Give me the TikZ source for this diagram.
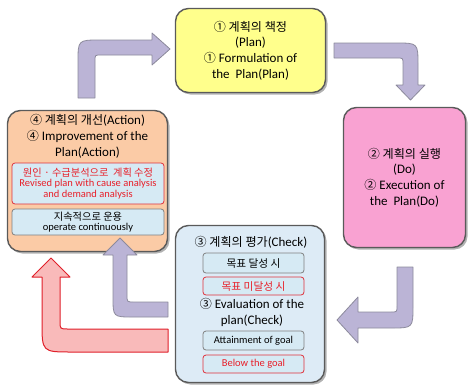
\documentclass[tikz,border=0pt]{standalone}
\usepackage{fontspec}
\setmainfont{Carlito}
\newfontfamily\kr[Scale=0.93]{Noto Sans CJK KR}
\usetikzlibrary{shadows}
\definecolor{planfill}{HTML}{FFFF8C}
\definecolor{dofill}{HTML}{F9A2D2}
\definecolor{actfill}{HTML}{FBCBA6}
\definecolor{chkfill}{HTML}{DDEBF6}
\definecolor{subfill}{HTML}{D6EAF4}
\definecolor{stageline}{HTML}{5A5A5A}
\definecolor{subline}{HTML}{808080}
\definecolor{subred}{HTML}{E0303A}
\definecolor{textred}{HTML}{E8202A}
\definecolor{arrowfill}{HTML}{BBB4D6}
\definecolor{arrowline}{HTML}{8C8A9C}
\definecolor{arrowpink}{HTML}{F9BABA}
\definecolor{arrowred}{HTML}{E0202A}
\tikzset{
  stage/.style={draw=stageline, line width=1.4pt, rounded corners=13pt, inner sep=0pt,
    drop shadow={shadow xshift=2pt, shadow yshift=-2pt, fill=black!60, opacity=.5},
    align=center, font=\fontsize{13}{15.8}\selectfont},
  subbox/.style={draw=subline, fill=subfill, rounded corners=3pt, line width=0.8pt,
    inner sep=0pt, align=center, font=\fontsize{10.5}{10.6}\selectfont},
  redbox/.style={subbox, draw=subred, text=textred},
  bentarrow/.style={draw=arrowline, fill=arrowfill, line width=0.8pt, line join=round},
  redarrow/.style={draw=arrowred, fill=arrowpink, line width=1pt, line join=round},
}
\begin{document}
\begin{tikzpicture}[x=1pt, y=-1pt]
    \useasboundingbox (0,0) rectangle (469,389);
    % stages
    \node[stage, fill=planfill, minimum width=150pt, minimum height=84pt] (plan) at (250.5,50.5)
      {{\kr ① 계획의 책정}\\(Plan)\\{\kr ①} Formulation of\\the\ \ Plan(Plan)};
    \node[stage, fill=dofill, minimum width=122pt, minimum height=140pt] (do) at (404.5,177.5)
      {{\kr ② 계획의 실행}\\(Do)\\{\kr ②} Execution of\\the\ \ Plan(Do)};
    \node[stage, fill=actfill, minimum width=160pt, minimum height=141pt] (act) at (87.5,181) {};
    \node[stage, fill=chkfill, minimum width=149pt, minimum height=157pt] (chk) at (250,304) {};
    % action contents
    \node[align=center, font=\fontsize{13}{16}\selectfont] (acttitle) at (87.5,136)
      {{\kr ④ 계획의 개선}(Action)\\{\kr ④} Improvement of the\\Plan(Action)};
    \node[redbox, minimum width=152pt, minimum height=41pt] (actfix) at (88,183.5)
      {{\kr\fontsize{11}{11}\selectfont 원인 · 수급분석으로\ \ 계획 수정}\\Revised plan with cause analysis\\and demand analysis};
    \node[subbox, minimum width=152pt, minimum height=26pt] (actrun) at (88,222)
      {{\kr\fontsize{11}{11}\selectfont 지속적으로 운용}\\operate continuously};
    % check contents
    \node[font=\fontsize{13}{15.5}\selectfont] (chktitle) at (251,242) {{\kr ③ 계획의 평가}(Check)};
    \node[subbox, minimum width=101pt, minimum height=20pt, font=\kr\fontsize{11.5}{12}\selectfont] (chkgoal) at (253.5,263) {목표 달성 시};
    \node[redbox, minimum width=101pt, minimum height=18pt, font=\kr\fontsize{11.5}{12}\selectfont] (chkmiss) at (253.5,286) {목표 미달성 시};
    \node[align=center, font=\fontsize{13}{15.5}\selectfont] (chkeval) at (252,312.5)
      {{\kr ③} Evaluation of the\\plan(Check)};
    \node[subbox, minimum width=101pt, minimum height=19pt, font=\fontsize{10.5}{12}\selectfont] (chkgoalen) at (253.5,340.5) {Attainment of goal};
    \node[redbox, minimum width=101pt, minimum height=18pt, font=\fontsize{10.5}{12}\selectfont] (chkmissen) at (253.5,364) {Below the goal};
    % cycle arrows
    \draw[bentarrow] (78,98) -- (78,62) .. controls (78,40) .. (100,40) -- (152,40) -- (152,33)
      -- (170,49) -- (152,65) -- (152,55) -- (101,55) .. controls (95,55) .. (95,61) -- (95,98) -- cycle;
    \draw[bentarrow] (334,43) -- (396,43) .. controls (418,43) .. (418,65) -- (418,85) -- (425,85)
      -- (410.5,100) -- (396,85) -- (403,85) -- (403,64) .. controls (403,58) .. (397,58) -- (334,58) -- cycle;
    \draw[bentarrow] (397,267) -- (413,267) -- (413,306) .. controls (413,328) .. (391,328) -- (358,328)
      -- (358,343) -- (337,320) -- (358,297) -- (358,312) -- (391,312) .. controls (397,312) .. (397,306) -- cycle;
    \draw[bentarrow] (168,302) -- (134,302) .. controls (127,302) .. (127,295) -- (127,255) -- (137,255)
      -- (120,238) -- (103,255) -- (113,255) -- (113,297) .. controls (113,317) .. (133,317) -- (168,317) -- cycle;
    \draw[redarrow] (168,329) -- (68,329) .. controls (60,329) .. (60,321) -- (60,277) -- (70,277)
      -- (51,258) -- (32,277) -- (42,277) -- (42,322) .. controls (42,352) .. (72,352) -- (168,352) -- cycle;
\end{tikzpicture}
\end{document}
